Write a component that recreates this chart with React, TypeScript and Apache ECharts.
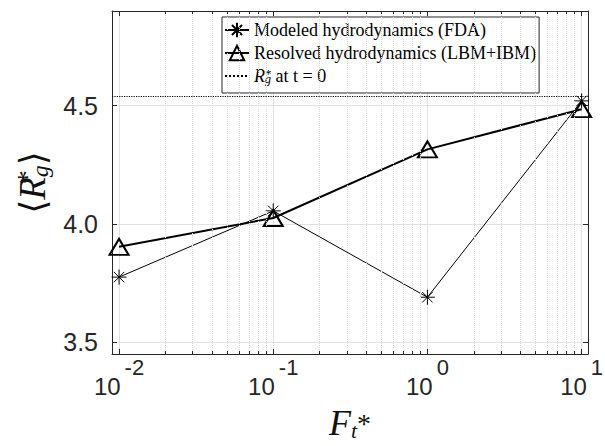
import React, { useEffect, useRef } from 'react';
import * as echarts from 'echarts';

// ---- data ----
const xValues = [0.01, 0.1, 1, 10];
const fdaValues = [3.775, 4.055, 3.69, 4.52];
const lbmValues = [3.903, 4.025, 4.315, 4.485];
const r0Value = 4.54;
const minorXTicks = [
  0.02, 0.03, 0.04, 0.05, 0.06, 0.07, 0.08, 0.09,
  0.2, 0.3, 0.4, 0.5, 0.6, 0.7, 0.8, 0.9,
  2, 3, 4, 5, 6, 7, 8, 9,
];
const seriesNames = [
  'Modeled hydrodynamics (FDA)',
  'Resolved hydrodynamics (LBM+IBM)',
  'R_g^* at t = 0',
];

const X_MIN = 0.009;
const X_MAX = 11;
const Y_MIN = 3.45;
const Y_MAX = 4.9;
const MINOR_TICK = 0.013;

const TXT = '#262626';
const SERIF = 'Liberation Serif';
const SANS = 'Liberation Sans';

const ASTERISK = 'path://M10 0 L10 20 M0 10 L20 10 M3 3 L17 17 M3 17 L17 3';

const isPow10 = (v: number) => {
  const e = Math.log10(v);
  return Math.abs(e - Math.round(e)) < 1e-6;
};

export default function App() {
  const ref = useRef<HTMLDivElement>(null);
  useEffect(() => {
    if (!ref.current) return;
    const chart = echarts.init(ref.current, null, { renderer: 'svg' });
    const pairs = (ys: number[]) => xValues.map((x, i) => [x, ys[i]]);
    const minorTickSegs: any[] = [];
    minorXTicks.forEach((v) => {
      minorTickSegs.push([{ coord: [v, Y_MIN] }, { coord: [v, Y_MIN + MINOR_TICK] }]);
      minorTickSegs.push([{ coord: [v, Y_MAX] }, { coord: [v, Y_MAX - MINOR_TICK] }]);
    });
    const option: any = {
      animation: false,
      backgroundColor: '#fff',
      grid: { left: 112, right: 17, top: 11, bottom: 92, outerBoundsMode: 'none' },
      legend: {
        data: [
          seriesNames[0],
          seriesNames[1],
          { name: seriesNames[2], itemStyle: { opacity: 0 } },
        ],
        orient: 'vertical',
        left: 222,
        top: 17,
        padding: [4, 3, 8, 2],
        itemWidth: 24,
        itemHeight: 18,
        itemGap: 5,
        backgroundColor: '#fff',
        borderColor: TXT,
        borderWidth: 1,
        borderRadius: 0,
        selectedMode: false,
        formatter: (name: string) =>
          name === seriesNames[2] ? '{i|R}{sup|*}{sub|g}{n| at t = 0}' : name,
        textStyle: {
          fontFamily: SERIF,
          fontSize: 18,
          color: '#000',
          lineHeight: 18,
          rich: {
            i: { fontFamily: SERIF, fontStyle: 'italic', fontSize: 18, color: '#000', lineHeight: 18 },
            sup: { fontFamily: SERIF, fontSize: 13, color: '#000', width: 0, verticalAlign: 'top', lineHeight: 10 },
            sub: { fontFamily: SERIF, fontStyle: 'italic', fontSize: 12, color: '#000', verticalAlign: 'bottom', lineHeight: 8 },
            n: { fontFamily: SERIF, fontSize: 18, color: '#000', lineHeight: 18 },
          },
        },
      },
      xAxis: [
        {
          type: 'log',
          logBase: 10,
          min: X_MIN,
          max: X_MAX,
          position: 'bottom',
          axisLine: { show: true, onZero: false, lineStyle: { color: TXT, width: 1 } },
          axisTick: { show: true, inside: true, length: 5, lineStyle: { color: TXT, width: 1 } },
          splitLine: { show: true, lineStyle: { color: '#e2e2e2', width: 1 } },
          axisLabel: {
            margin: 2,
            color: TXT,
            formatter: (v: number) =>
              isPow10(v) ? `{b|10}{s|${Math.round(Math.log10(v))}}` : '',
            rich: {
              b: { fontFamily: SANS, fontSize: 24, color: TXT, lineHeight: 42, verticalAlign: 'bottom' },
              s: { fontFamily: SANS, fontSize: 22, color: TXT, lineHeight: 2, verticalAlign: 'top', padding: [0, 0, 0, 4] },
            },
          },
          name: '{i|F}{sub|t}{sup|*}',
          nameLocation: 'middle',
          nameGap: 51,
          nameTextStyle: {
            rich: {
              i: { fontFamily: SERIF, fontStyle: 'italic', fontSize: 36, color: '#111', lineHeight: 36 },
              sub: { fontFamily: SERIF, fontStyle: 'italic', fontSize: 22, color: '#111', lineHeight: 10, verticalAlign: 'bottom' },
              sup: { fontFamily: SERIF, fontSize: 28, color: '#111', lineHeight: 36, verticalAlign: 'middle' },
            },
          },
        },
        {
          type: 'log',
          logBase: 10,
          min: X_MIN,
          max: X_MAX,
          position: 'top',
          axisLine: { show: true, onZero: false, lineStyle: { color: TXT, width: 1 } },
          axisTick: { show: true, inside: true, length: 5, lineStyle: { color: TXT, width: 1 } },
          axisLabel: { show: false },
          splitLine: { show: false },
        },
      ],
      yAxis: [
        {
          type: 'value',
          min: Y_MIN,
          max: Y_MAX,
          splitNumber: 3,
          position: 'left',
          axisLine: { show: true, onZero: false, lineStyle: { color: TXT, width: 1 } },
          axisTick: { show: true, inside: true, length: 5, lineStyle: { color: TXT, width: 1 } },
          splitLine: { show: true, lineStyle: { color: '#e2e2e2', width: 1 } },
          axisLabel: {
            margin: 14,
            color: TXT,
            fontFamily: SANS,
            fontSize: 25,
            formatter: (v: number) =>
              Math.abs(v * 2 - Math.round(v * 2)) < 1e-9 ? v.toFixed(1) : '',
          },
          name: '{a|\u27E8}{i|R}{sup|*}{sub|g}{a|\u27E9}',
          nameLocation: 'middle',
          nameGap: 54,
          nameTextStyle: {
            rich: {
              a: { fontFamily: 'DejaVu Serif', fontSize: 36, color: '#111', lineHeight: 40 },
              i: { fontFamily: SERIF, fontStyle: 'italic', fontSize: 37, color: '#111', lineHeight: 40 },
              sup: { fontFamily: SERIF, fontSize: 28, color: '#111', width: 0, lineHeight: 30, verticalAlign: 'top' },
              sub: { fontFamily: SERIF, fontStyle: 'italic', fontSize: 24, color: '#111', lineHeight: 12, verticalAlign: 'bottom' },
            },
          },
        },
        {
          type: 'value',
          min: Y_MIN,
          max: Y_MAX,
          splitNumber: 3,
          position: 'right',
          axisLine: { show: true, onZero: false, lineStyle: { color: TXT, width: 1 } },
          axisTick: { show: true, inside: true, length: 5, lineStyle: { color: TXT, width: 1 } },
          axisLabel: { show: false },
          splitLine: { show: false },
        },
      ],
      series: [
        {
          name: '__minorGrid',
          type: 'line',
          data: [],
          silent: true,
          markLine: {
            silent: true,
            symbol: ['none', 'none'],
            label: { show: false },
            lineStyle: { color: '#dadada', type: 'dotted', width: 1 },
            data: minorXTicks.map((v) => ({ xAxis: v })),
          },
          z: 1,
        },
        {
          name: '__minorTicks',
          type: 'line',
          data: [],
          silent: true,
          markLine: {
            silent: true,
            symbol: ['none', 'none'],
            label: { show: false },
            lineStyle: { color: TXT, type: 'solid', width: 1 },
            data: minorTickSegs,
          },
          z: 1,
        },
        {
          name: seriesNames[2],
          type: 'line',
          data: [],
          symbol: 'none',
          lineStyle: { color: '#000', width: 1, type: 'dotted' },
          itemStyle: { color: '#000' },
          markLine: {
            silent: true,
            symbol: ['none', 'none'],
            label: { show: false },
            lineStyle: { color: '#000', type: 'dotted', width: 1.2 },
            data: [{ yAxis: r0Value }],
          },
          z: 2,
        },
        {
          name: seriesNames[0],
          type: 'line',
          data: pairs(fdaValues),
          symbol: ASTERISK,
          symbolSize: 15,
          lineStyle: { color: '#000', width: 1 },
          itemStyle: { color: 'transparent', borderColor: '#000', borderWidth: 1 },
          z: 3,
        },
        {
          name: seriesNames[1],
          type: 'line',
          data: pairs(lbmValues),
          symbol: 'triangle',
          symbolSize: [19, 16],
          lineStyle: { color: '#000', width: 2 },
          itemStyle: { color: 'transparent', borderColor: '#000', borderWidth: 2 },
          z: 4,
        },
      ],
    };
    chart.setOption(option);
    return () => chart.dispose();
  }, []);
  return (
    <div
      ref={ref}
      style={{ position: 'absolute', left: 0, top: 0, width: 605, height: 446, background: '#fff' }}
    />
  );
}
